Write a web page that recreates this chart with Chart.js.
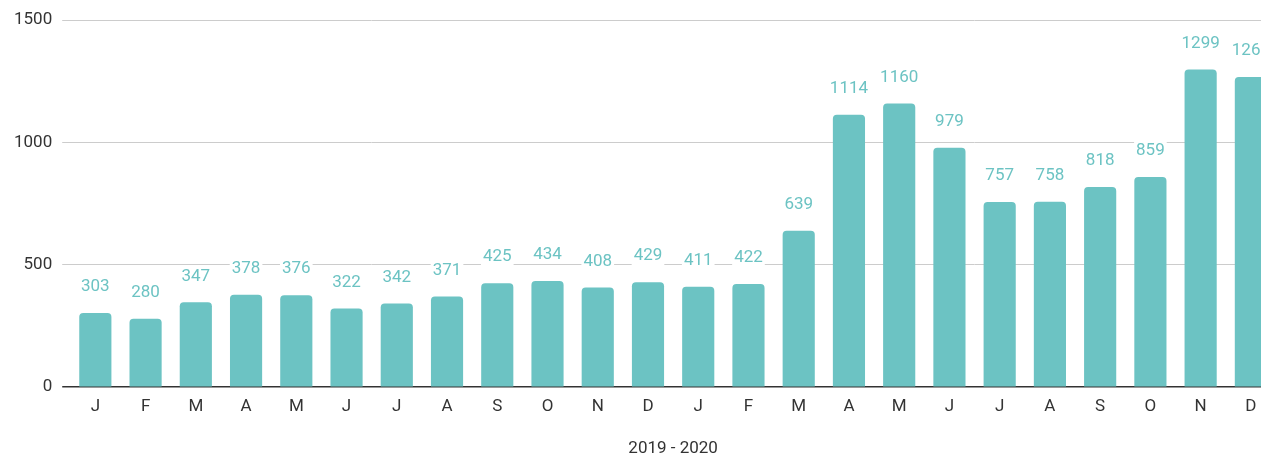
<!DOCTYPE html>
<html>
<head>
<meta charset="utf-8">
<script src="https://cdn.jsdelivr.net/npm/chart.js@4"></script>
<style>
  html, body { margin: 0; padding: 0; background: #fff; overflow: hidden; }
  #wrap { width: 1276px; height: 462px; position: relative; }
</style>
</head>
<body>
<div id="wrap"><canvas id="barChart"></canvas></div>
<script>
const months = ['J', 'F', 'M', 'A', 'M', 'J', 'J', 'A', 'S', 'O', 'N', 'D',
                'J', 'F', 'M', 'A', 'M', 'J', 'J', 'A', 'S', 'O', 'N', 'D'];
const counts = [303, 280, 347, 378, 376, 322, 342, 371, 425, 434, 408, 429,
                411, 422, 639, 1114, 1160, 979, 757, 758, 818, 859, 1299, 1268];
const yTicks = [0, 500, 1000, 1500];
const xTitle = '2019 - 2020';

const teal = '#6cc3c3';

// draw value labels above each bar, on a white box so gridlines break behind them
const valueLabels = {
  id: 'valueLabels',
  afterDatasetsDraw(chart) {
    const ctx = chart.ctx;
    const meta = chart.getDatasetMeta(0);
    ctx.save();
    ctx.font = '17px Roboto';
    ctx.textAlign = 'center';
    ctx.textBaseline = 'middle';
    meta.data.forEach((bar, i) => {
      const txt = String(counts[i]);
      const w = ctx.measureText(txt).width;
      const y = bar.y - 26;
      ctx.fillStyle = '#fff';
      ctx.fillRect(bar.x - w / 2 - 2, y - 9, w + 4, 18);
      ctx.fillStyle = teal;
      ctx.fillText(txt, bar.x, y);
    });
    ctx.restore();
  }
};

const ctx = document.getElementById('barChart').getContext('2d');
new Chart(ctx, {
  type: 'bar',
  data: {
    labels: months,
    datasets: [{
      data: counts,
      backgroundColor: teal,
      borderRadius: { topLeft: 4, topRight: 4 },
      borderSkipped: 'bottom',
      barPercentage: 0.64,
      categoryPercentage: 1.0
    }]
  },
  options: {
    responsive: true,
    maintainAspectRatio: false,
    animation: false,
    layout: { padding: { top: 20, left: 4, right: 0, bottom: 3 } },
    plugins: {
      legend: { display: false },
      tooltip: { enabled: false }
    },
    scales: {
      x: {
        grid: { display: false },
        border: { display: false },
        ticks: { color: '#333', font: { family: 'Roboto', size: 17 }, padding: 1 },
        title: {
          display: true,
          text: xTitle,
          color: '#333',
          font: { family: 'Roboto', size: 17 },
          padding: { top: 21, bottom: 0 }
        }
      },
      y: {
        min: 0,
        max: 1500,
        afterBuildTicks: axis => { axis.ticks = yTicks.map(v => ({ value: v })); },
        border: { display: false },
        grid: {
          color: c => c.tick && c.tick.value === 0 ? '#333' : '#ccc',
          lineWidth: c => c.tick && c.tick.value === 0 ? 1.5 : 1,
          tickLength: 8
        },
        ticks: {
          color: '#333',
          font: { family: 'Roboto', size: 17 },
          padding: 10,
          callback: v => String(v)
        }
      }
    }
  },
  plugins: [valueLabels]
});
</script>
</body>
</html>
